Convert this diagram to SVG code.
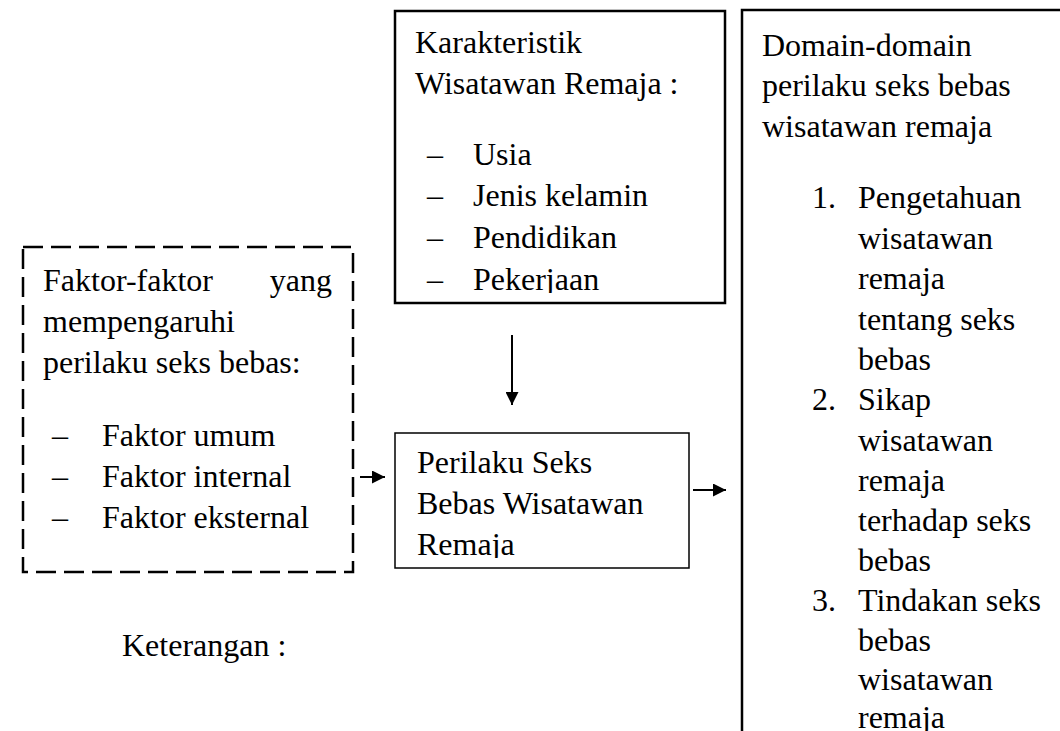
<svg xmlns="http://www.w3.org/2000/svg" width="1060" height="731" viewBox="0 0 1060 731">
<style>
text{font-family:"Liberation Serif","Times New Roman",serif;font-size:32px;fill:#000}
.box{fill:#fff;stroke:#000;stroke-width:2.5}
.thin{fill:#fff;stroke:#000;stroke-width:1.5}
.dash{fill:#fff;stroke:#000;stroke-width:2.5;stroke-dasharray:20 8}
.conn{stroke:#000;stroke-width:2;fill:none}
</style>
<defs>
<marker id="ah" viewBox="0 0 10 10" refX="10" refY="5" markerWidth="7.5" markerHeight="6.5" markerUnits="strokeWidth" orient="auto">
<path d="M0,0 L10,5 L0,10 z" fill="#000"/>
</marker>
<clipPath id="clipTop"><rect x="395" y="11" width="330" height="282"/></clipPath>
<clipPath id="clipMid"><rect x="395" y="433" width="294" height="125"/></clipPath>
</defs>
<rect width="1060" height="731" fill="#fff"/>
<g id="karakteristik">
<rect class="box" x="395" y="11" width="330" height="292"/>
<g clip-path="url(#clipTop)">
<text x="415" y="53">Karakteristik</text>
<text x="415" y="94">Wisatawan Remaja :</text>
<text x="427" y="165">–</text><text x="473" y="165">Usia</text>
<text x="427" y="206">–</text><text x="473" y="206">Jenis kelamin</text>
<text x="427" y="248">–</text><text x="473" y="248">Pendidikan</text>
<text x="427" y="290">–</text><text x="473" y="290">Pekerjaan</text>
</g>
</g>
<g id="domain">
<rect class="box" x="742" y="10" width="400" height="800"/>
<text x="762" y="56">Domain-domain</text>
<text x="762" y="96">perilaku seks bebas</text>
<text x="762" y="137">wisatawan remaja</text>
<text x="812" y="208">1.</text><text x="858" y="208">Pengetahuan</text>
<text x="858" y="248.5">wisatawan</text>
<text x="858" y="289">remaja</text>
<text x="858" y="329.5">tentang seks</text>
<text x="858" y="370">bebas</text>
<text x="812" y="410">2.</text><text x="858" y="410">Sikap</text>
<text x="858" y="450.5">wisatawan</text>
<text x="858" y="491">remaja</text>
<text x="858" y="531">terhadap seks</text>
<text x="858" y="571">bebas</text>
<text x="812" y="611">3.</text><text x="858" y="611">Tindakan seks</text>
<text x="858" y="650.5">bebas</text>
<text x="858" y="690">wisatawan</text>
<text x="858" y="728">remaja</text>
</g>
<g id="faktor">
<rect class="dash" x="23" y="247" width="330" height="325"/>
<text x="43" y="291">Faktor-faktor</text>
<text x="332" y="291" text-anchor="end">yang</text>
<text x="43" y="332">mempengaruhi</text>
<text x="43" y="373">perilaku seks bebas:</text>
<text x="52" y="446">–</text><text x="102" y="446">Faktor umum</text>
<text x="52" y="487">–</text><text x="102" y="487">Faktor internal</text>
<text x="52" y="528">–</text><text x="102" y="528">Faktor eksternal</text>
</g>
<g id="perilaku">
<rect class="thin" x="395" y="433" width="294" height="135"/>
<g clip-path="url(#clipMid)">
<text x="417" y="473">Perilaku Seks</text>
<text x="417" y="514">Bebas Wisatawan</text>
<text x="417" y="555">Remaja</text>
</g>
</g>
<g id="keterangan">
<text x="122" y="656">Keterangan :</text>
</g>
<g id="connectors">
<line class="conn" x1="512" y1="335" x2="512" y2="405" marker-end="url(#ah)"/>
<line class="conn" x1="360" y1="477" x2="385" y2="477" marker-end="url(#ah)"/>
<line class="conn" x1="693" y1="490" x2="726" y2="490" marker-end="url(#ah)"/>
</g>
</svg>
